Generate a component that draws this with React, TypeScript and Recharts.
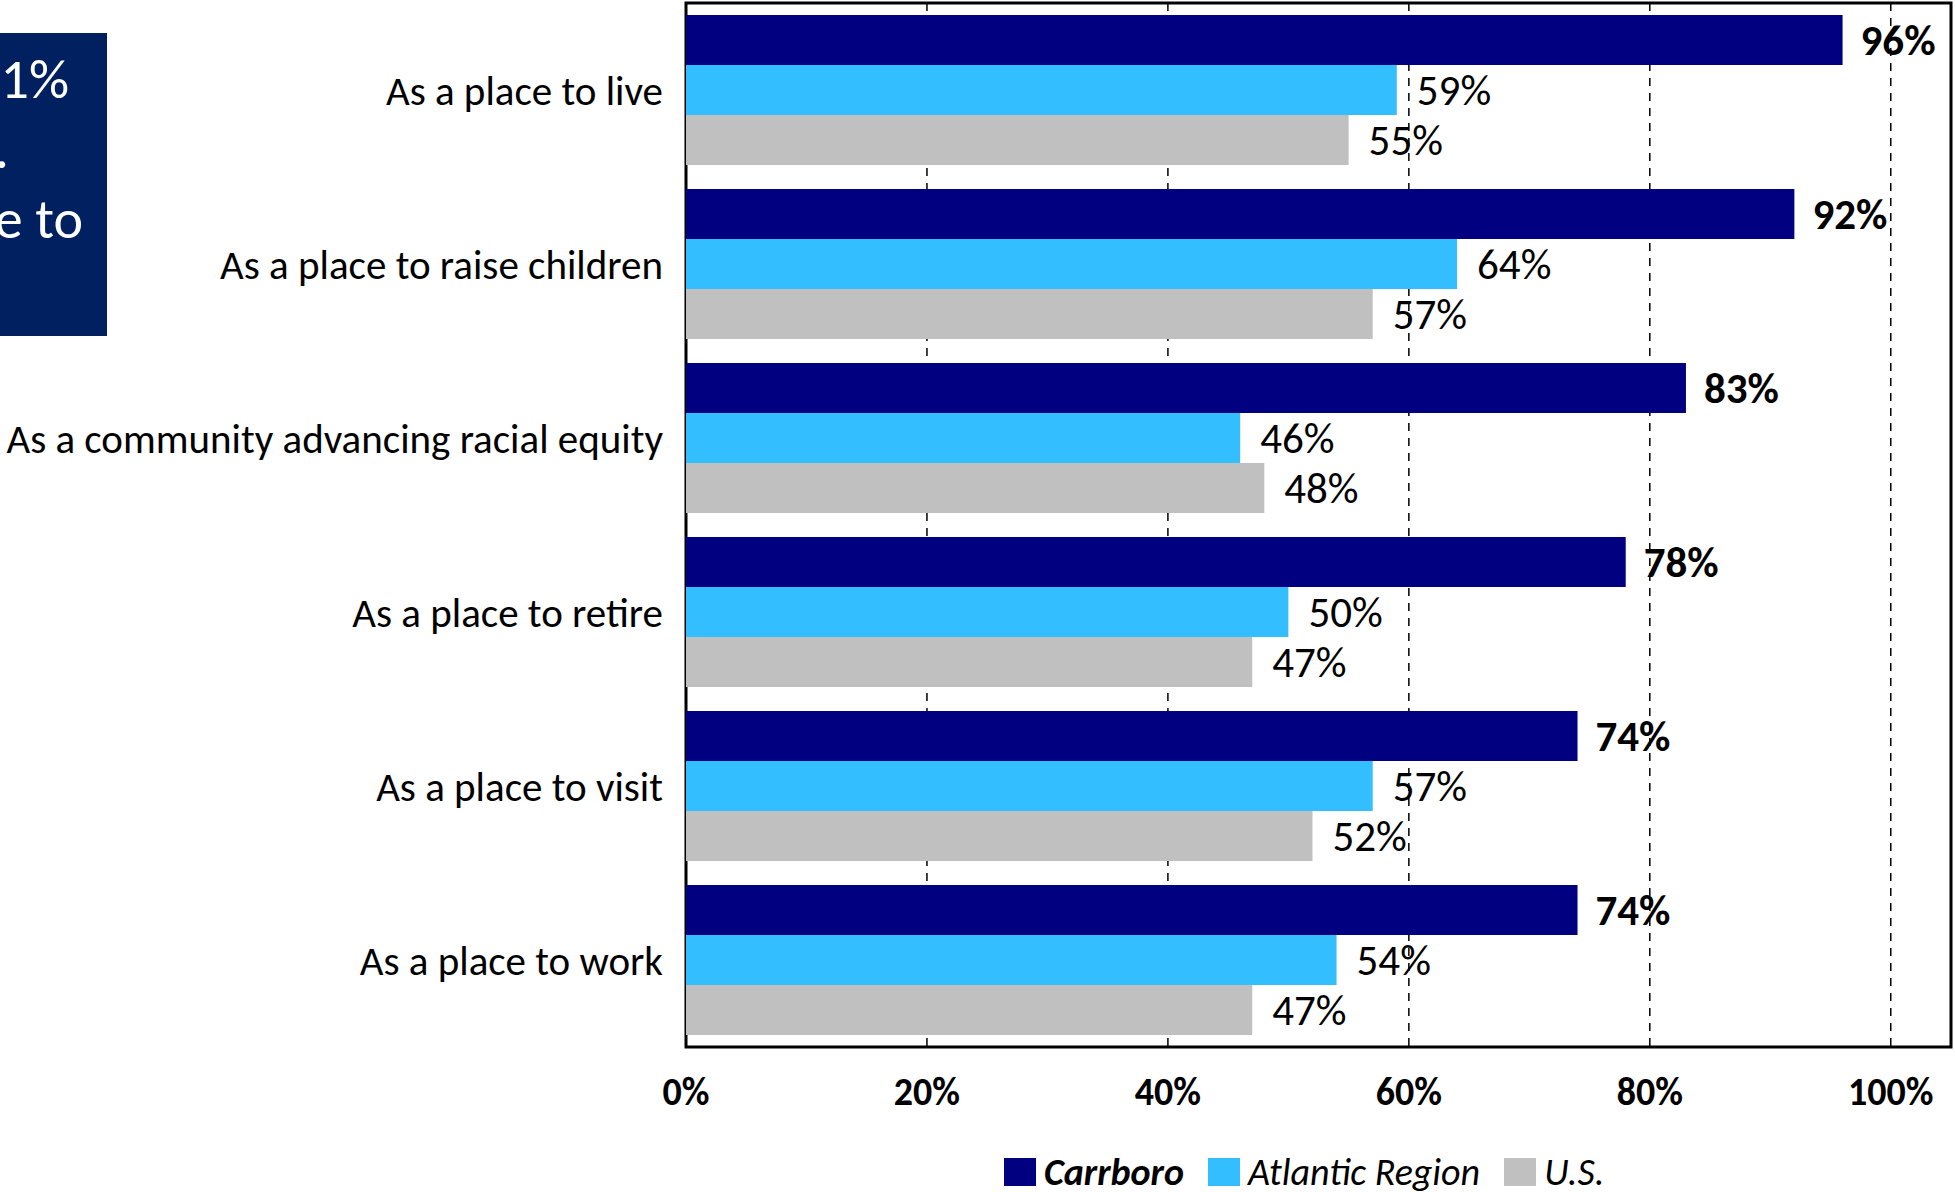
import {
  BarChart,
  Bar,
  XAxis,
  YAxis,
  CartesianGrid,
  Legend,
  LabelList,
  ReferenceArea
} from "recharts";

const categories = [
  "As a place to live",
  "As a place to raise children",
  "As a community advancing racial equity",
  "As a place to retire",
  "As a place to visit",
  "As a place to work"
];

const seriesNames = ["Carrboro", "Atlantic Region", "U.S."];

const carrboro = [96, 92, 83, 78, 74, 74];
const atlantic = [59, 64, 46, 50, 57, 54];
const us = [55, 57, 48, 47, 52, 47];

const xTicks = [0, 20, 40, 60, 80, 100];

const boxLines = ["1%", ".", "e to"];

const colors = ["#000080", "#33BFFF", "#C0C0C0"];

const FONT = "Carlito, Lato, 'Open Sans', sans-serif";

const data = categories.map((name, i) => ({
  name,
  [seriesNames[0]]: carrboro[i],
  [seriesNames[1]]: atlantic[i],
  [seriesNames[2]]: us[i]
}));

// bold, slightly squeezed tick labels like the original
function XTick(props: any) {
  const { x, y, payload } = props;
  return (
    <g transform={`translate(${x},${y})`}>
      <text
        x={0}
        y={0}
        dy="0.71em"
        textAnchor="middle"
        transform="scale(0.95,1)"
        fontSize={40}
        fontWeight={700}
        fontFamily={FONT}
        fill="#000"
      >
        {payload.value + "%"}
      </text>
    </g>
  );
}

function LegendContent() {
  return (
    <div
      style={{
        display: "flex",
        alignItems: "center",
        height: 40,
        fontFamily: FONT,
        fontSize: 38,
        fontStyle: "italic",
        color: "#000",
        whiteSpace: "nowrap"
      }}
    >
      {seriesNames.map((name, i) => (
        <div
          key={name}
          style={{ display: "flex", alignItems: "center", marginRight: 24 }}
        >
          <span
            style={{
              display: "inline-block",
              width: 32,
              height: 28,
              background: colors[i],
              marginRight: 8
            }}
          />
          <span style={{ fontWeight: i === 0 ? 700 : 400 }}>{name}</span>
        </div>
      ))}
    </div>
  );
}

export default function App() {
  return (
    <div
      style={{
        position: "absolute",
        left: 0,
        top: 0,
        width: 1955,
        height: 1192,
        background: "#fff",
        fontFamily: FONT
      }}
    >
      <div
        style={{
          position: "absolute",
          left: 0,
          top: 33,
          width: 107,
          height: 303,
          background: "#002060",
          overflow: "hidden"
        }}
      >
        {boxLines.map((t, i) => (
          <div
            key={i}
            style={{
              position: "absolute",
              right: i === 1 ? 98 : i === 0 ? 38 : 24,
              top: 14 + i * 70,
              color: "#fff",
              fontSize: 56,
              lineHeight: "64px",
              whiteSpace: "nowrap"
            }}
          >
            {t}
          </div>
        ))}
      </div>

      <BarChart
        width={1955}
        height={1192}
        data={data}
        layout="vertical"
        margin={{ top: 3, right: 4, left: 0, bottom: 0 }}
        barCategoryGap={12}
        barGap={0}
      >
        <CartesianGrid
          horizontal={false}
          stroke="#000"
          strokeWidth={1.5}
          strokeDasharray="8 7"
        />
        <XAxis
          type="number"
          domain={[0, 105]}
          ticks={xTicks}
          height={105}
          tickLine={false}
          axisLine={false}
          tickMargin={24}
          tick={<XTick />}
        />
        <YAxis
          type="category"
          dataKey="name"
          width={686}
          tickLine={false}
          axisLine={false}
          tickMargin={17}
          tick={{ fontSize: 41, fill: "#000", fontFamily: FONT }}
        />
        <Legend
          verticalAlign="bottom"
          content={<LegendContent />}
          wrapperStyle={{ left: 1004, width: "auto" }}
        />
        <Bar dataKey={seriesNames[0]} fill={colors[0]} isAnimationActive={false}>
          <LabelList
            dataKey={seriesNames[0]}
            position="right"
            offset={18}
            formatter={(v: any) => v + "%"}
            style={{ fontSize: 43, fontWeight: 700, fill: "#000", fontFamily: FONT }}
          />
        </Bar>
        <Bar dataKey={seriesNames[1]} fill={colors[1]} isAnimationActive={false}>
          <LabelList
            dataKey={seriesNames[1]}
            position="right"
            offset={20}
            formatter={(v: any) => v + "%"}
            style={{ fontSize: 43, fill: "#000", fontFamily: FONT }}
          />
        </Bar>
        <Bar dataKey={seriesNames[2]} fill={colors[2]} isAnimationActive={false}>
          <LabelList
            dataKey={seriesNames[2]}
            position="right"
            offset={20}
            formatter={(v: any) => v + "%"}
            style={{ fontSize: 43, fill: "#000", fontFamily: FONT }}
          />
        </Bar>
        <ReferenceArea
          x1={0}
          x2={105}
          fill="none"
          fillOpacity={0}
          stroke="#000"
          strokeWidth={3}
          ifOverflow="extendDomain"
        />
      </BarChart>
    </div>
  );
}
